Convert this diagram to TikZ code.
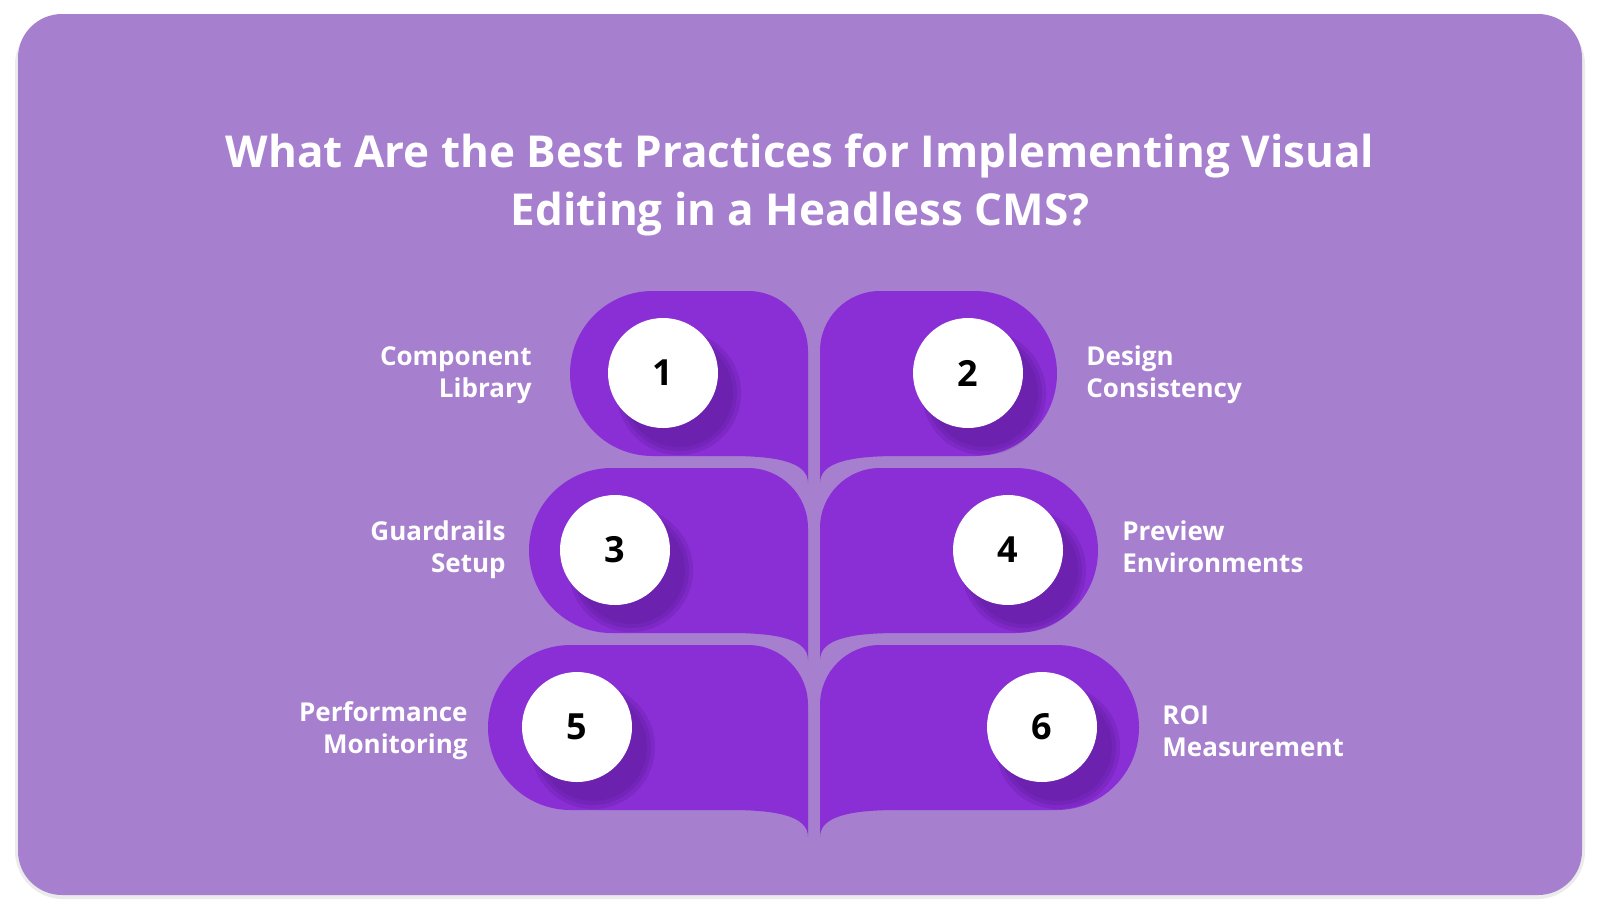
\documentclass[tikz,border=0pt]{standalone}
\usepackage{fontspec}
\setmainfont{Open Sans}
\definecolor{cardbg}{HTML}{A77FCF}
\definecolor{petal}{HTML}{8A2ED6}
\definecolor{shade}{HTML}{4A1580}
\tikzset{
  petalfill/.style={fill=petal, draw=none},
  num/.style={circle, minimum size=55pt, fill=white, draw=none, font=\fontsize{18}{20}\selectfont\bfseries, text=black},
  numshadow/.style={circle, fill=shade, opacity=0.18, draw=none},
  lab/.style={text=white, font=\fontsize{13}{16}\selectfont\bfseries, inner sep=0pt},
}
% left petal: left edge, top
\newcommand\leftpetal[2]{%
  \fill[petalfill] (808,#2+60) -- (808,#2+192)
    .. controls (808,#2+172) and (780,#2+165) .. (730,#2+165)
    -- (#1+82.5,#2+165) arc (90:270:82.5) -- (748,#2) arc (270:360:60) -- cycle;}
% right petal: right edge, top
\newcommand\rightpetal[2]{%
  \fill[petalfill] (820,#2+60) -- (820,#2+192)
    .. controls (820,#2+172) and (848,#2+165) .. (898,#2+165)
    -- (#1-82.5,#2+165) arc (90:-90:82.5) -- (880,#2) arc (270:180:60) -- cycle;}
\begin{document}
\begin{tikzpicture}[x=0.5pt,y=-0.5pt]
  \useasboundingbox (0,0) rectangle (1600,916);
  \fill[white] (0,0) rectangle (1600,916);
  \fill[black!8, rounded corners=24] (15,17) rectangle (1585,899);
  \fill[cardbg, rounded corners=22] (18,14) rectangle (1582,895);
  \node[text=white, font=\fontsize{22}{29}\selectfont\bfseries, align=center] (title) at (800,185)
    {What Are the Best Practices for Implementing Visual\\Editing in a Headless CMS?};
  % petals
  \leftpetal{570}{291}
  \rightpetal{1057}{291}
  \leftpetal{529}{468}
  \rightpetal{1098}{468}
  \leftpetal{488}{645}
  \rightpetal{1139}{645}
  % number discs
  \foreach \n/\x/\y in {1/663/373, 2/968/373, 3/615/550, 4/1008/550, 5/577/727, 6/1042/727}{
    \foreach \s in {62,58,54}
      \node[numshadow, minimum size=\s pt] at (\x+16,\y+20) {};
    \node[num] (n\n) at (\x,\y) {\n};
  }
  % labels
  \node[lab, align=right, anchor=east] (l1) at (532,375) {Component\\Library};
  \node[lab, align=left, anchor=west] (l2) at (1086,375) {Design\\Consistency};
  \node[lab, align=right, anchor=east] (l3) at (506,550) {Guardrails\\Setup};
  \node[lab, align=left, anchor=west] (l4) at (1122,547) {Preview\\Environments};
  \node[lab, align=right, anchor=east] (l5) at (468,731) {Performance\\Monitoring};
  \node[lab, align=left, anchor=west] (l6) at (1162,731) {ROI\\Measurement};
\end{tikzpicture}
\end{document}
